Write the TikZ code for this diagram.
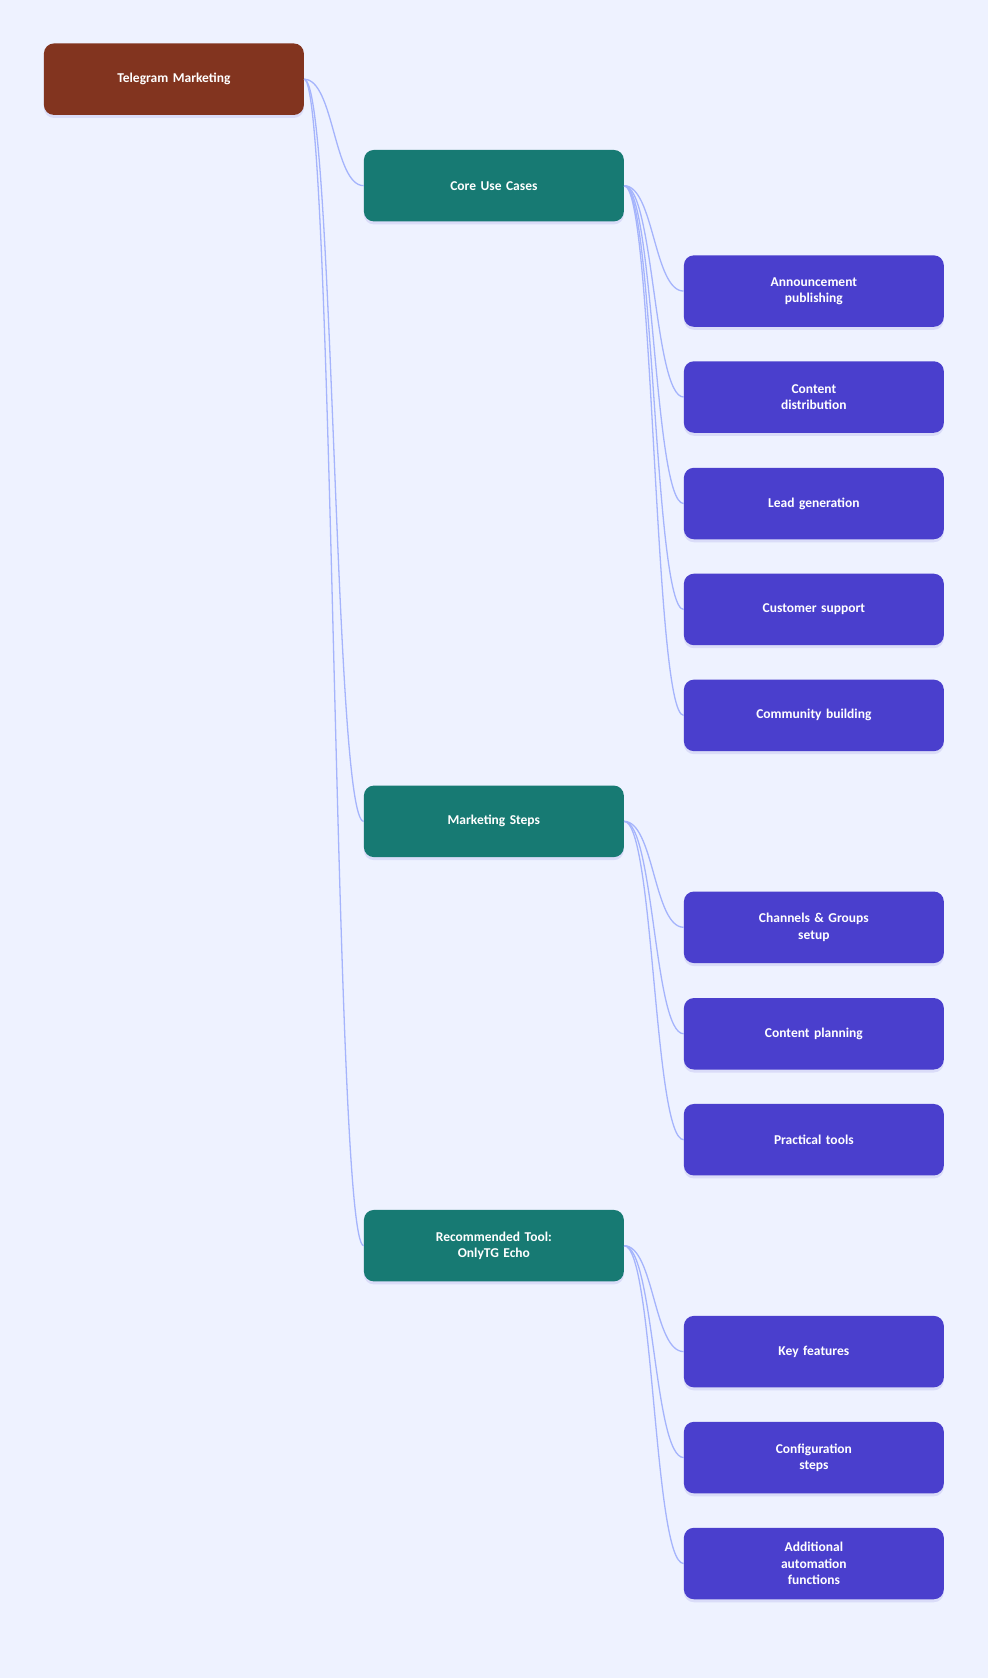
\documentclass[tikz,border=0pt]{standalone}
\usepackage{fontspec}
\setmainfont{Carlito}
\usetikzlibrary{calc,shadows}
\definecolor{bg}{HTML}{EEF2FF}
\definecolor{rootc}{HTML}{82341F}
\definecolor{tealc}{HTML}{177A73}
\definecolor{purc}{HTML}{4A3FCD}
\definecolor{edgec}{HTML}{A5B4FC}
\begin{document}
\begin{tikzpicture}[x=1.0704pt,y=-1.0704pt,
  box/.style={rounded corners=10pt,minimum width=260pt,minimum height=71.5pt,text width=120pt,align=center,text=white,font=\bfseries\fontsize{13.5}{16.5}\selectfont,inner sep=0pt,drop shadow={shadow xshift=0pt,shadow yshift=-3pt,opacity=0.12,fill=purc}},
  rootb/.style={box,fill=rootc},
  midb/.style={box,fill=tealc},
  leafb/.style={box,fill=purc},
  con/.style={draw=edgec,line width=1.3pt}]
\fill[bg] (0,0) rectangle (923,1568);
\node[rootb] (r) at (162.5,74) {Telegram Marketing};
\node[midb] (a) at (461.5,173.5) {Core Use Cases};
\node[midb] (b) at (461.5,767.5) {Marketing Steps};
\node[midb] (c) at (461.5,1164) {Recommended Tool:\\OnlyTG Echo};
\node[leafb] (a1) at (760.5,272) {Announcement\\publishing};
\node[leafb] (a2) at (760.5,371) {Content\\distribution};
\node[leafb] (a3) at (760.5,470.5) {Lead generation};
\node[leafb] (a4) at (760.5,569.5) {Customer support};
\node[leafb] (a5) at (760.5,668.5) {Community building};
\node[leafb] (b1) at (760.5,866.5) {Channels \& Groups\\setup};
\node[leafb] (b2) at (760.5,966) {Content planning};
\node[leafb] (b3) at (760.5,1065) {Practical tools};
\node[leafb] (c1) at (760.5,1263) {Key features};
\node[leafb] (c2) at (760.5,1362) {Configuration\\steps};
\node[leafb] (c3) at (760.5,1461) {Additional\\automation\\functions};
\foreach \p/\k in {r/a,r/b,r/c,a/a1,a/a2,a/a3,a/a4,a/a5,b/b1,b/b2,b/b3,c/c1,c/c2,c/c3}{
  \draw[con] (\p.east) .. controls ([xshift=30pt]\p.east) and ([xshift=-30pt]\k.west) .. (\k.west);
}
\end{tikzpicture}
\end{document}
